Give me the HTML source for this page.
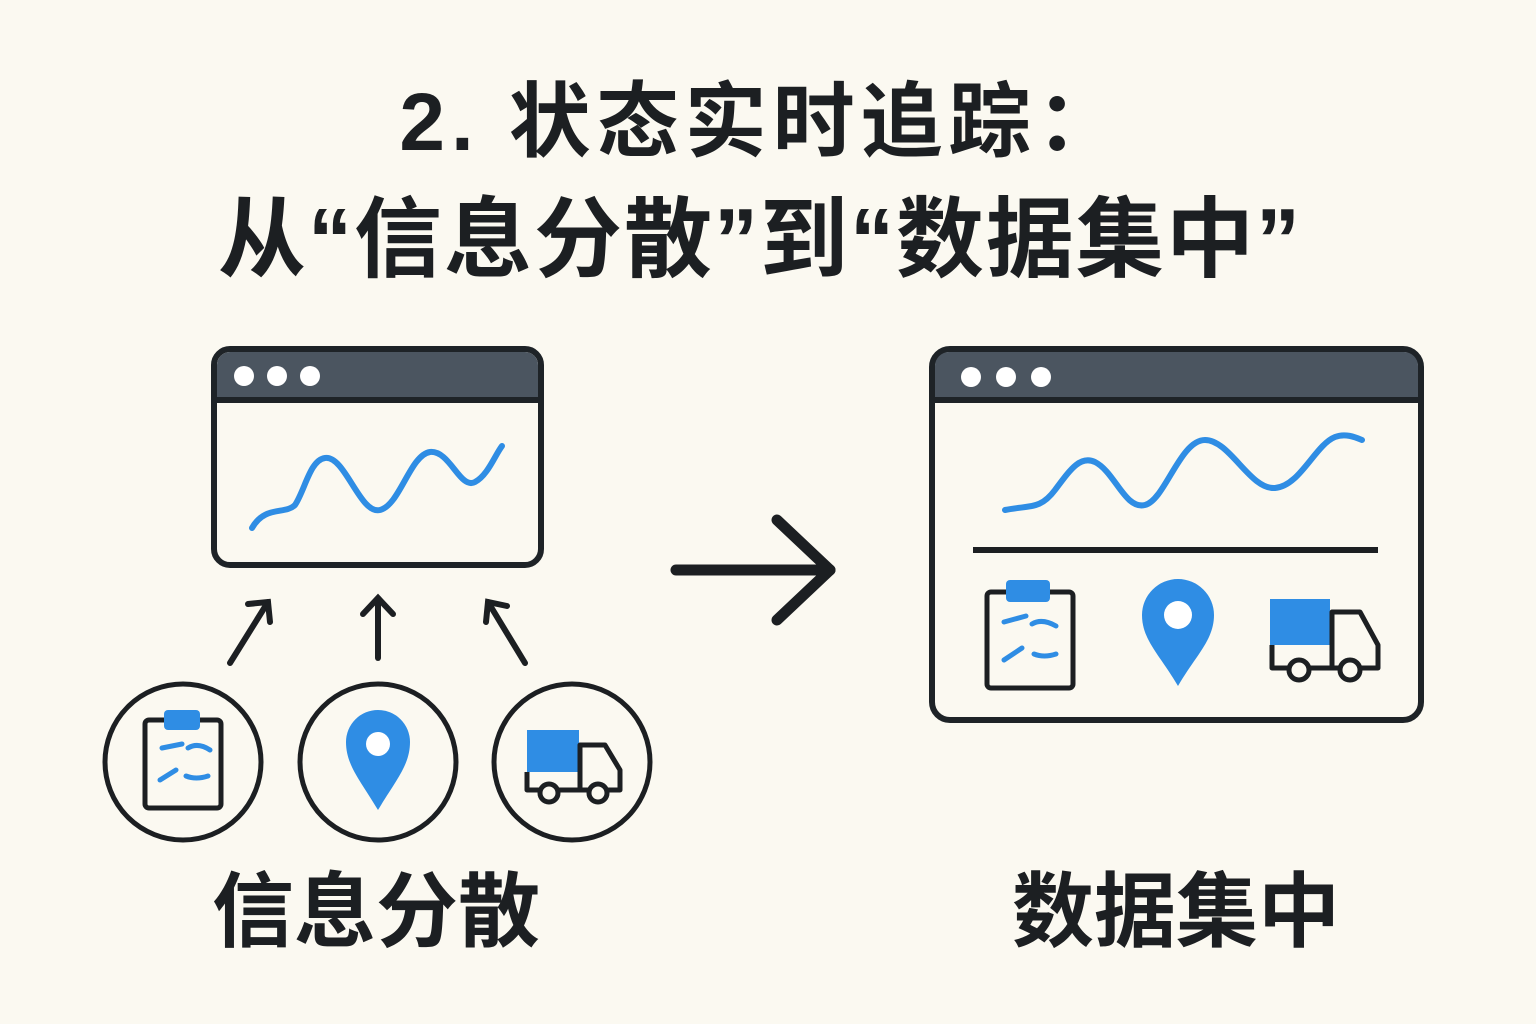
<!DOCTYPE html>
<html><head><meta charset="utf-8"><style>
html,body{margin:0;padding:0;background:#fbf9f1;}
svg{display:block}
text{font-family:"Liberation Sans","Noto Sans CJK SC",sans-serif;font-weight:bold;fill:#1c1f22}
</style></head><body>
<svg width="1536" height="1024" viewBox="0 0 1536 1024" xmlns="http://www.w3.org/2000/svg">
<rect width="1536" height="1024" fill="#fbf9f1"/>
<text x="762" y="150" font-size="82" text-anchor="middle" letter-spacing="6">2. 状态实时追踪：</text>
<text x="760" y="270" font-size="88" text-anchor="middle" letter-spacing="2">从“信息分散”到“数据集中”</text>

<!-- left window -->
<g>
<rect x="214" y="349" width="327" height="216" rx="16" fill="#fbf9f1" stroke="#1e2327" stroke-width="6"/>
<path d="M217 400 V365 a13 13 0 0 1 13 -13 H525 a13 13 0 0 1 13 13 V400 Z" fill="#4b5560"/>
<line x1="214" y1="400" x2="541" y2="400" stroke="#1e2327" stroke-width="6"/>
<circle cx="244" cy="376" r="10" fill="#fff"/><circle cx="277" cy="376" r="10" fill="#fff"/><circle cx="310" cy="376" r="10" fill="#fff"/>
<path d="M252 528 C265 505,285 515,295 505 C305 490,310 460,325 458 C345 455,360 515,380 510 C400 505,410 455,430 452 C450 450,460 490,475 482 C488 475,495 455,502 446" fill="none" stroke="#2f8de4" stroke-width="6" stroke-linecap="round"/>
</g>

<!-- small arrows -->
<g stroke="#1c1f22" stroke-width="6" fill="none" stroke-linecap="round">
<line x1="230" y1="663" x2="268" y2="602"/><polyline points="248,604 268,602 270,622"/>
<line x1="378" y1="658" x2="378" y2="600"/><polyline points="363,614 378,598 393,614"/>
<line x1="525" y1="663" x2="488" y2="602"/><polyline points="486,622 488,602 507,606"/>
</g>

<!-- circles -->
<g fill="none" stroke="#1c1f22" stroke-width="5">
<circle cx="183" cy="762" r="78"/><circle cx="378" cy="762" r="78"/><circle cx="572" cy="762" r="78"/>
</g>
<!-- clipboard -->
<g>
<rect x="145" y="720" width="76" height="88" rx="4" fill="none" stroke="#1c1f22" stroke-width="5"/>
<rect x="164" y="710" width="36" height="20" rx="4" fill="#2f8de4"/>
<path d="M162 748 l20 -4 M188 748 q10 -6 22 2 M160 780 l16 -10 M186 776 q10 4 22 0" stroke="#2f8de4" stroke-width="5" fill="none" stroke-linecap="round"/>
</g>
<!-- pin -->
<path d="M378 810 C360 780,346 765,346 742 a32 32 0 0 1 64 0 C410 765,396 780,378 810 Z" fill="#2f8de4"/>
<circle cx="378" cy="744" r="12" fill="#fff"/>
<!-- truck -->
<g>
<rect x="527" y="730" width="52" height="42" fill="#2f8de4"/>
<path d="M527 772 V790 H620 V770 L605 745 H580 V790" fill="none" stroke="#1c1f22" stroke-width="5" stroke-linejoin="round"/>
<circle cx="549" cy="793" r="9" fill="#fbf9f1" stroke="#1c1f22" stroke-width="5"/>
<circle cx="598" cy="793" r="9" fill="#fbf9f1" stroke="#1c1f22" stroke-width="5"/>
</g>

<!-- big arrow -->
<g stroke="#1c1f22" stroke-width="11" fill="none" stroke-linecap="round" stroke-linejoin="round">
<line x1="676" y1="570" x2="830" y2="570"/><polyline points="777,520 830,570 777,620"/>
</g>

<!-- right window -->
<g>
<rect x="932" y="349" width="489" height="371" rx="18" fill="#fbf9f1" stroke="#1e2327" stroke-width="6"/>
<path d="M935 400 V366 a14 14 0 0 1 14 -14 H1404 a14 14 0 0 1 14 14 V400 Z" fill="#4b5560"/>
<line x1="932" y1="400" x2="1421" y2="400" stroke="#1e2327" stroke-width="6"/>
<circle cx="971" cy="377" r="10" fill="#fff"/><circle cx="1006" cy="377" r="10" fill="#fff"/><circle cx="1041" cy="377" r="10" fill="#fff"/>
<path d="M1005 510 C1030 505,1040 510,1055 490 C1070 470,1080 455,1095 462 C1115 472,1125 510,1145 505 C1165 500,1180 440,1205 440 C1230 440,1250 490,1275 488 C1300 486,1315 445,1335 437 C1345 433,1355 437,1362 440" fill="none" stroke="#2f8de4" stroke-width="6" stroke-linecap="round"/>
<line x1="973" y1="550" x2="1378" y2="550" stroke="#1c1f22" stroke-width="6"/>
<rect x="987" y="592" width="86" height="96" rx="4" fill="none" stroke="#1c1f22" stroke-width="5"/>
<rect x="1006" y="580" width="44" height="22" rx="4" fill="#2f8de4"/>
<path d="M1004 622 l22 -6 M1032 624 q10 -6 24 2 M1004 660 l18 -12 M1034 654 q10 4 22 0" stroke="#2f8de4" stroke-width="5" fill="none" stroke-linecap="round"/>
<path d="M1178 686 C1160 655,1142 640,1142 615 a36 36 0 0 1 72 0 C1214 640,1196 655,1178 686 Z" fill="#2f8de4"/>
<circle cx="1178" cy="615" r="14" fill="#fff"/>
<rect x="1270" y="599" width="60" height="46" fill="#2f8de4"/>
<path d="M1272 645 V668 H1378 V645 L1360 612 H1332 V668" fill="none" stroke="#1c1f22" stroke-width="5" stroke-linejoin="round"/>
<circle cx="1299" cy="670" r="10" fill="#fbf9f1" stroke="#1c1f22" stroke-width="5"/>
<circle cx="1350" cy="670" r="10" fill="#fbf9f1" stroke="#1c1f22" stroke-width="5"/>
</g>

<text x="376" y="940" font-size="82" text-anchor="middle">信息分散</text>
<text x="1176" y="940" font-size="82" text-anchor="middle">数据集中</text>
</svg>
</body></html>
